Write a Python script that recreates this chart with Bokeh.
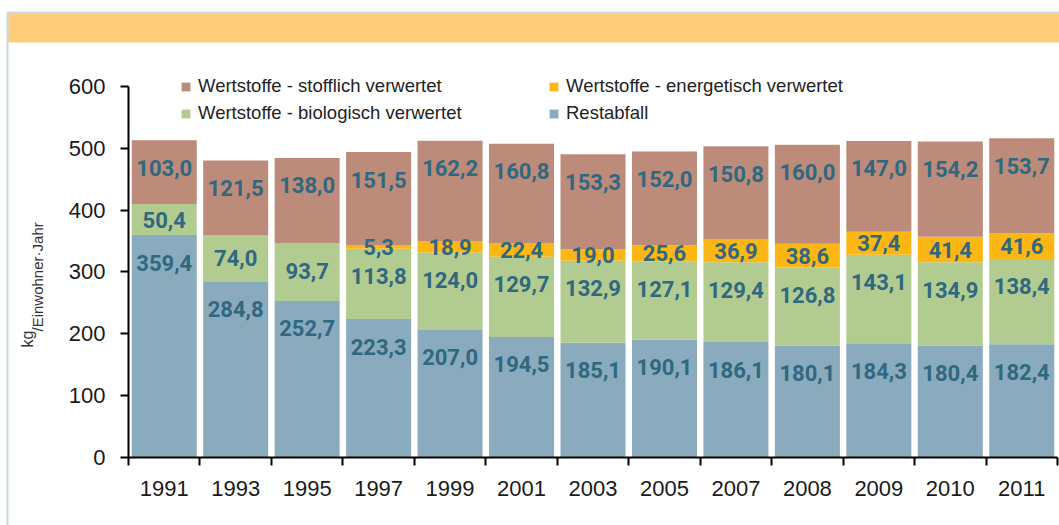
import math
from bokeh.plotting import figure
from bokeh.models import (ColumnDataSource, Range1d, FixedTicker, Legend, LegendItem,
                          Label, BoxAnnotation)
from bokeh.core.properties import value
from bokeh.embed import file_html
from bokeh.resources import INLINE

# ---------------- data ----------------
years = ["1991", "1993", "1995", "1997", "1999", "2001", "2003", "2005",
         "2007", "2008", "2009", "2010", "2011"]
restabfall = [359.4, 284.8, 252.7, 223.3, 207.0, 194.5, 185.1, 190.1, 186.1, 180.1, 184.3, 180.4, 182.4]
biologisch = [50.4, 74.0, 93.7, 113.8, 124.0, 129.7, 132.9, 127.1, 129.4, 126.8, 143.1, 134.9, 138.4]
energetisch = [0.0, 0.0, 0.0, 5.3, 18.9, 22.4, 19.0, 25.6, 36.9, 38.6, 37.4, 41.4, 41.6]
stofflich = [103.0, 121.5, 138.0, 151.5, 162.2, 160.8, 153.3, 152.0, 150.8, 160.0, 147.0, 154.2, 153.7]

series_names = ["Restabfall", "Wertstoffe - biologisch verwertet",
                "Wertstoffe - energetisch verwertet", "Wertstoffe - stofflich verwertet"]
series_values = [restabfall, biologisch, energetisch, stofflich]
y_ticks = [0, 100, 200, 300, 400, 500, 600]
y_max_axis = 600
y_label_main = "kg"
y_label_sub = "/Einwohner·Jahr"

# ---------------- style / layout (pixels) ----------------
colors = ["#8AABBD", "#B2CB90", "#FCB714", "#BC8B7A"]
label_color = "#2F6880"
W, H = 1059, 525
AX_LEFT_PX, AX_RIGHT_PX = 128, 1057      # x-axis extent on the canvas
Y0_PX, Y600_PX = 456.5, 86.0             # pixel rows of y=0 and y=600

n = len(years)
cat_px = (AX_RIGHT_PX - AX_LEFT_PX) / n
ppu = (Y0_PX - Y600_PX) / y_max_axis
x_start = -0.5 - AX_LEFT_PX / cat_px
x_end = n - 0.5 + (W - AX_RIGHT_PX) / cat_px
y_end = Y0_PX / ppu
y_start = -(H - Y0_PX) / ppu

def px_to_x(px):
    return x_start + px / cat_px
def py_to_y(py):
    return (Y0_PX - py) / ppu

xs = list(range(n))
keys = ["rest", "bio", "ener", "stoff"]
src = ColumnDataSource(dict(x=xs, **{k: v for k, v in zip(keys, series_values)}))

p = figure(width=W, height=H, x_range=Range1d(x_start, x_end),
           y_range=Range1d(y_start, y_end), output_backend="svg", toolbar_location=None,
           min_border=0)
p.outline_line_color = None
p.grid.visible = False
p.background_fill_color = "white"
p.border_fill_color = "white"

# header band and frame border (decoration)
p.add_layout(BoxAnnotation(left=8, right=W + 10, top=13, bottom=42,
                           left_units="canvas", right_units="canvas",
                           top_units="canvas", bottom_units="canvas",
                           fill_color="#FFCC7A", fill_alpha=1.0, line_color=None,
                           level="underlay"))
p.add_layout(BoxAnnotation(left=7, right=W + 10, top=12, bottom=H + 10,
                           left_units="canvas", right_units="canvas",
                           top_units="canvas", bottom_units="canvas",
                           fill_alpha=0.0, line_color="#4A7F98", line_width=2,
                           level="underlay"))

renderers = p.vbar_stack(keys, x="x", width=0.91, source=src,
                         fill_color=colors, line_color=None)

# value labels
off = 27.5 / ppu
lx, ly, lt = [], [], []
bottoms = [0.0] * n
for si, vals in enumerate(series_values):
    for i, v in enumerate(vals):
        b = bottoms[i]
        t = b + v
        if v > 0:
            if si == 2:
                y = b + v / 2
            else:
                y = t - min(off, v / 2)
            lx.append(xs[i])
            ly.append(y)
            lt.append(f"{v:.1f}".replace(".", ","))
        bottoms[i] = t
lsrc = ColumnDataSource(dict(x=lx, y=ly, t=lt))
p.text(x="x", y="y", text="t", source=lsrc, text_font=value("Roboto"),
       text_font_style="bold", text_font_size="22px", text_color=label_color,
       text_align="center", text_baseline="middle")

# axes
xa = p.xaxis[0]
xa.fixed_location = 0
xa.bounds = (-0.5, n - 0.5)
xa.ticker = FixedTicker(ticks=xs, minor_ticks=[i - 0.5 for i in range(n + 1)])
xa.major_label_overrides = {i: y for i, y in enumerate(years)}
xa.major_tick_out = 0
xa.major_tick_in = 0
xa.minor_tick_out = 8
xa.minor_tick_in = 0
xa.minor_tick_line_color = "black"
xa.minor_tick_line_width = 2
xa.axis_line_width = 2
xa.axis_line_color = "black"
xa.major_label_text_font = "Liberation Sans"
xa.major_label_text_font_size = "22px"
xa.major_label_text_color = "#1a1a1a"
xa.major_label_standoff = 16

ya = p.yaxis[0]
ya.fixed_location = -0.5
ya.ticker = FixedTicker(ticks=y_ticks, minor_ticks=[])
ya.bounds = (0, y_max_axis)
ya.major_tick_out = 8
ya.major_tick_in = 0
ya.major_tick_line_width = 2
ya.major_tick_line_color = "black"
ya.axis_line_width = 2
ya.axis_line_color = "black"
ya.minor_tick_line_color = None
ya.major_label_text_font = "Liberation Sans"
ya.major_label_text_font_size = "22px"
ya.major_label_text_color = "#1a1a1a"
ya.major_label_standoff = 15

# y axis label (kg with subscript)
p.add_layout(Label(x=px_to_x(27), y=py_to_y(347), text=y_label_main, angle=math.pi / 2,
                   text_font="Liberation Sans", text_font_size="16px", text_color="#333333",
                   text_align="left", text_baseline="middle"))
p.add_layout(Label(x=px_to_x(37), y=py_to_y(331), text=y_label_sub, angle=math.pi / 2,
                   text_font="Liberation Sans", text_font_size="15px", text_color="#333333",
                   text_align="left", text_baseline="middle"))

# legends (two columns)
r_rest, r_bio, r_ener, r_stoff = renderers
def make_legend(items, loc):
    lg = Legend(items=items, location=loc, orientation="vertical")
    lg.label_text_font = "Liberation Sans"
    lg.label_text_font_size = "18.5px"
    lg.label_text_color = "#222222"
    lg.glyph_width = 11
    lg.glyph_height = 11
    lg.label_standoff = 7
    lg.label_height = 20
    lg.spacing = 5
    lg.padding = 0
    lg.margin = 0
    lg.border_line_color = None
    lg.background_fill_alpha = 0
    return lg

leg_bottom = H - 124
leg1 = make_legend([LegendItem(label=series_names[3], renderers=[r_stoff]),
                    LegendItem(label=series_names[1], renderers=[r_bio])], (180, leg_bottom))
leg2 = make_legend([LegendItem(label=series_names[2], renderers=[r_ener]),
                    LegendItem(label=series_names[0], renderers=[r_rest])], (548, leg_bottom))
p.add_layout(leg1)
p.add_layout(leg2)

open("out.html", "w").write(file_html(p, INLINE))
